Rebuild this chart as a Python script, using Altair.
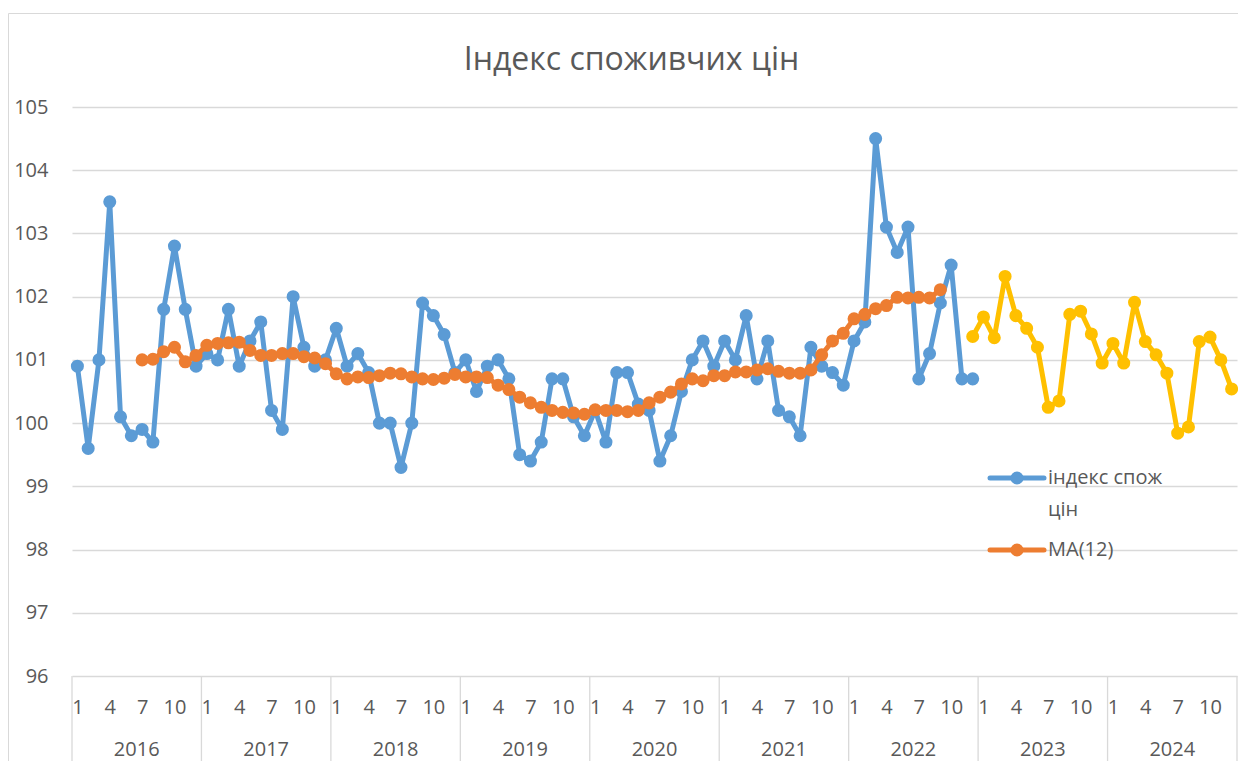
import altair as alt
import pandas as pd

# ---------------- data ----------------
years = [2016, 2017, 2018, 2019, 2020, 2021, 2022, 2023, 2024]
month_ticks = [1, 4, 7, 10]

# індекс спож цін: 2016-01 .. 2022-12
cpi = [
    100.9, 99.6, 101.0, 103.5, 100.1, 99.8, 99.9, 99.7, 101.8, 102.8, 101.8, 100.9,   # 2016
    101.1, 101.0, 101.8, 100.9, 101.3, 101.6, 100.2, 99.9, 102.0, 101.2, 100.9, 101.0, # 2017
    101.5, 100.9, 101.1, 100.8, 100.0, 100.0, 99.3, 100.0, 101.9, 101.7, 101.4, 100.8, # 2018
    101.0, 100.5, 100.9, 101.0, 100.7, 99.5, 99.4, 99.7, 100.7, 100.7, 100.1, 99.8,    # 2019
    100.2, 99.7, 100.8, 100.8, 100.3, 100.2, 99.4, 99.8, 100.5, 101.0, 101.3, 100.9,   # 2020
    101.3, 101.0, 101.7, 100.7, 101.3, 100.2, 100.1, 99.8, 101.2, 100.9, 100.8, 100.6, # 2021
    101.3, 101.6, 104.5, 103.1, 102.7, 103.1, 100.7, 101.1, 101.9, 102.5, 100.7, 100.7 # 2022
]
cpi_start = 0

# MA(12): 2016-07 .. 2022-09
ma12 = [
    101.00, 101.01, 101.13, 101.20, 100.97, 101.07,                                       # 2016
    101.23, 101.26, 101.27, 101.28, 101.15, 101.07, 101.07, 101.10, 101.10, 101.05, 101.03, 100.94,  # 2017
    100.78, 100.70, 100.73, 100.72, 100.75, 100.79, 100.78, 100.73, 100.70, 100.69, 100.71, 100.77,  # 2018
    100.73, 100.73, 100.72, 100.60, 100.53, 100.41, 100.32, 100.25, 100.20, 100.17, 100.16, 100.14,  # 2019
    100.21, 100.20, 100.20, 100.18, 100.20, 100.32, 100.41, 100.49, 100.62, 100.70, 100.67, 100.75,  # 2020
    100.75, 100.81, 100.81, 100.84, 100.86, 100.82, 100.79, 100.79, 100.84, 101.08, 101.30, 101.42,  # 2021
    101.65, 101.72, 101.81, 101.86, 101.99, 101.98, 101.99, 101.98, 102.11                    # 2022
]
ma12_start = 6

# forecast: 2022-12 .. 2024-12
forecast = [
    101.37,
    101.68, 101.35, 102.32, 101.70, 101.50, 101.20, 100.25, 100.35, 101.72, 101.77, 101.41, 100.95,
    101.26, 100.95, 101.91, 101.29, 101.08, 100.79, 99.84, 99.94, 101.29, 101.36, 101.00, 100.54
]
forecast_start = 83

title_text = "Індекс споживчих цін"
legend_labels = ["індекс спож", "цін", "MA(12)"]
colors = {"cpi": "#5B9BD5", "ma": "#ED7D31", "fc": "#FFC000"}
grid_color = "#D9D9D9"
text_color = "#595959"
FONT = "Open Sans"

W, H = 1165, 569
n_months = len(years) * 12

# ---------------- tables ----------------
def series_df(vals, start):
    return pd.DataFrame({"t": [start + i + 0.5 for i in range(len(vals))], "v": vals})

df_cpi = series_df(cpi, cpi_start)
df_ma = series_df(ma12, ma12_start)
df_fc = series_df(forecast, forecast_start)

df_years = pd.DataFrame({"t": [i * 12 + 6 for i in range(len(years))],
                         "label": [str(y) for y in years]})
df_sep = pd.DataFrame({"t": [i * 12 for i in range(len(years) + 1)]})

tick_values = [y * 12 + (m - 1) + 0.5 for y in range(len(years)) for m in month_ticks]

x_enc = alt.X(
    "t:Q",
    scale=alt.Scale(domain=[0, n_months], nice=False, zero=False),
    axis=alt.Axis(
        values=tick_values,
        labelExpr="floor(datum.value) % 12 + 1",
        title=None, ticks=False, tickSize=0, domain=False, grid=False,
        labelPadding=31, labelBaseline="middle", labelOverlap=False,
        labelFlush=False, labelBound=False,
        labelFont=FONT, labelFontSize=20, labelColor=text_color,
    ),
)
y_enc = alt.Y(
    "v:Q",
    scale=alt.Scale(domain=[96, 105], nice=False, zero=False),
    axis=alt.Axis(
        values=list(range(96, 106)), title=None, ticks=False, tickSize=0,
        domain=False, grid=True, gridColor=grid_color, gridWidth=1.3,
        labelPadding=24, labelFont=FONT, labelFontSize=20, labelColor=text_color,
    ),
)

LW = 5
MS = 170

def series_layers(df, color):
    line = alt.Chart(df).mark_line(strokeWidth=LW, color=color, strokeJoin="round",
                                   strokeCap="round").encode(x=x_enc, y=y_enc)
    pts = alt.Chart(df).mark_circle(size=MS, opacity=1, color=color).encode(x=x_enc, y=y_enc)
    return [line, pts]

# year separators and year labels under the month labels
seps = alt.Chart(df_sep).mark_rule(color=grid_color, strokeWidth=1.3).encode(
    x=x_enc, y=alt.value(H), y2=alt.value(H + 95))
year_text = alt.Chart(df_years).mark_text(
    font=FONT, fontSize=20, color=text_color, baseline="middle", align="center"
).encode(x=x_enc, y=alt.value(H + 74), text="label:N")

# outer chart frame
one = pd.DataFrame({"a": [0]})
frame = alt.Chart(one).mark_rect(fill="transparent", stroke=grid_color, strokeWidth=1).encode(
    x=alt.value(-63.5), x2=alt.value(W + 60), y=alt.value(-93.5), y2=alt.value(H + 200))

# chart title (centred on the whole chart area, as in the original)
title = alt.Chart(one).mark_text(
    text=title_text, font=FONT, fontSize=32, color=text_color,
    align="center", baseline="alphabetic"
).encode(x=alt.value(W / 2 - 23), y=alt.value(-37))

# legend (drawn by hand, as in the original: no entry for the forecast)
def legend_entry(color, yy, lines):
    sym_line = alt.Chart(one).mark_rule(color=color, strokeWidth=LW, strokeCap="round").encode(
        x=alt.value(918), x2=alt.value(972), y=alt.value(yy))
    sym_pt = alt.Chart(one).mark_circle(size=MS, opacity=1, color=color).encode(
        x=alt.value(945), y=alt.value(yy))
    txts = []
    for k, s in enumerate(lines):
        txts.append(alt.Chart(one).mark_text(
            text=s, font=FONT, fontSize=20, color=text_color, align="left", baseline="middle"
        ).encode(x=alt.value(976), y=alt.value(yy + k * 32)))
    return [sym_line, sym_pt] + txts

layers = [frame, title, seps, year_text]
layers += series_layers(df_cpi, colors["cpi"])
layers += series_layers(df_ma, colors["ma"])
layers += series_layers(df_fc, colors["fc"])
layers += legend_entry(colors["cpi"], 371, legend_labels[0:2])
layers += legend_entry(colors["ma"], 443, legend_labels[2:3])

chart = alt.layer(*layers).properties(
    width=W, height=H,
    autosize=alt.AutoSizeParams(type="none"),
    padding={"left": 64, "top": 99, "right": 1, "bottom": 85},
).configure_view(stroke=None)

chart.save("out.html", embed_options={"renderer": "svg", "actions": False})
